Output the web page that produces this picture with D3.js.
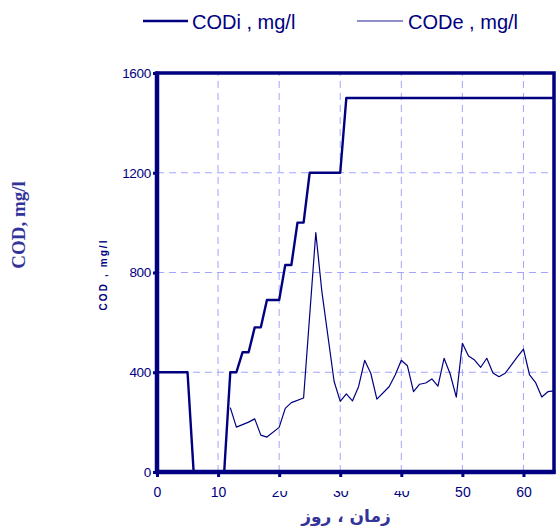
<!DOCTYPE html>
<html><head><meta charset="utf-8">
<script src="https://cdn.jsdelivr.net/npm/d3@7/dist/d3.min.js"></script>
<style>body{margin:0;background:#fff}svg{display:block}</style>
</head><body>
<script>
const codiDays = [0,5,6,11,12,13,14,15,16,17,18,20,21,22,23,24,25,30,31,65];
const codiValues = [400,400,0,0,400,400,480,480,580,580,690,690,830,830,1000,1000,1200,1200,1500,1500];
const codeDays = [12,13,15,16,17,18,20,21,22,24,26,27,29,30,31,32,33,34,35,36,38,39,40,41,42,43,44,45,46,47,48,49,50,51,52,53,54,55,56,57,59,60,61,62,63,64,65];
const codeValues = [258,180,200,213,148,140,179,255,278,297,960,722,363,283,313,285,342,448,396,292,342,389,448,426,322,352,357,373,344,456,393,300,516,465,449,420,456,397,382,396,462,493,389,358,301,322,325];
const xTicks = [0,10,20,30,40,50,60];
const yTicks = [0,400,800,1200,1600];
const legendLabels = ["CODi , mg/l", "CODe , mg/l"];

const W = 556, H = 529;
const navy = "#000080";
const svg = d3.select("body").append("svg").attr("width", W).attr("height", H);

const x = d3.scaleLinear().domain([0,65]).range([157,554]);
const y = d3.scaleLinear().domain([0,1600]).range([472,73]);

// grid
const grid = svg.append("g").attr("stroke","#a4a4ff").attr("stroke-width",1).attr("stroke-dasharray","7,5");
xTicks.filter(d=>d>0).forEach(d=>{
  grid.append("line").attr("x1",x(d)).attr("x2",x(d)).attr("y1",y(0)).attr("y2",y(1600));
});
yTicks.filter(d=>d>0&&d<1600).forEach(d=>{
  grid.append("line").attr("x1",x(0)).attr("x2",x(65)).attr("y1",y(d)).attr("y2",y(d));
});

// lines
const codi = codiDays.map((d,i)=>[d,codiValues[i]]);
const code = codeDays.map((d,i)=>[d,codeValues[i]]);
const line = d3.line().x(d=>x(d[0])).y(d=>y(d[1]));
svg.append("path").attr("d",line(code)).attr("fill","none").attr("stroke",navy).attr("stroke-width",1.2).attr("stroke-linejoin","round");
svg.append("path").attr("d",line(codi)).attr("fill","none").attr("stroke",navy).attr("stroke-width",2.4).attr("stroke-linejoin","round");

// frame
svg.append("rect").attr("x",x(0)).attr("y",y(1600)).attr("width",x(65)-x(0)).attr("height",y(0)-y(1600))
  .attr("fill","none").attr("stroke",navy).attr("stroke-width",3.5);
svg.append("line").attr("x1",x(0)).attr("x2",x(0)).attr("y1",y(1600)-1.5).attr("y2",y(0)+2).attr("stroke",navy).attr("stroke-width",4.5);
svg.append("line").attr("x1",x(0)-2).attr("x2",x(65)+1.5).attr("y1",y(0)).attr("y2",y(0)).attr("stroke",navy).attr("stroke-width",4.5);

// axes
const yAxis = d3.axisLeft(y).tickValues(yTicks).tickFormat(d3.format("d")).tickSize(4).tickPadding(2);
const gy = svg.append("g").attr("transform",`translate(${x(0)},0)`).call(yAxis);
gy.select(".domain").remove();
gy.selectAll(".tick line").attr("stroke",navy).attr("stroke-width",3);
gy.selectAll(".tick text").attr("fill",navy).style("font-family","'Liberation Sans', Arial, sans-serif").style("font-size","13.5px").attr("letter-spacing","-0.3");

const xAxis = d3.axisBottom(x).tickValues(xTicks).tickFormat(d3.format("d")).tickSize(5).tickPadding(10);
const gx = svg.append("g").attr("transform",`translate(0,${y(0)})`).call(xAxis);
gx.select(".domain").remove();
gx.selectAll(".tick line").attr("stroke",navy).attr("stroke-width",3);
gx.selectAll(".tick text").attr("fill",navy).style("font-family","'Liberation Sans', Arial, sans-serif").style("font-size","14px");

// mask clipping top of some x labels (as in reference)
svg.append("rect").attr("x",x(20)-12).attr("y",479).attr("width",x(40)-x(20)+24).attr("height",12).attr("fill","#fff");

// axis titles
svg.append("text").attr("x",346).attr("y",522).attr("text-anchor","middle")
  .attr("fill","#333399").style("font-family","'DejaVu Sans', sans-serif").style("font-weight","bold").style("font-size","17px")
  .text("زمان ، روز");
svg.append("text").attr("transform","translate(25,225) rotate(-90)").attr("text-anchor","middle")
  .attr("fill","#333399").style("font-family","'Liberation Serif', 'Times New Roman', serif").style("font-weight","bold").style("font-size","19px")
  .text("COD, mg/l");
svg.append("text").attr("transform","translate(106.5,275.5) rotate(-90)").attr("text-anchor","middle")
  .attr("fill",navy).style("font-family","'Liberation Sans', Arial, sans-serif").style("font-weight","bold").style("font-size","10px")
  .attr("textLength",70).attr("lengthAdjust","spacing")
  .text("COD , mg/l");

// legend
const leg = [{x1:143,x2:188,tx:192,w:2.4,c:navy},{x1:357,x2:403,tx:408,w:1.6,c:"#6a6ab4"}];
leg.forEach((l,i)=>{
  svg.append("line").attr("x1",l.x1).attr("x2",l.x2).attr("y1",21).attr("y2",21).attr("stroke",l.c).attr("stroke-width",l.w);
  svg.append("text").attr("x",l.tx).attr("y",29).attr("fill",navy)
    .style("font-family","'Liberation Sans', Arial, sans-serif").style("font-size","20px")
    .text(legendLabels[i]);
});
</script>
</body></html>
